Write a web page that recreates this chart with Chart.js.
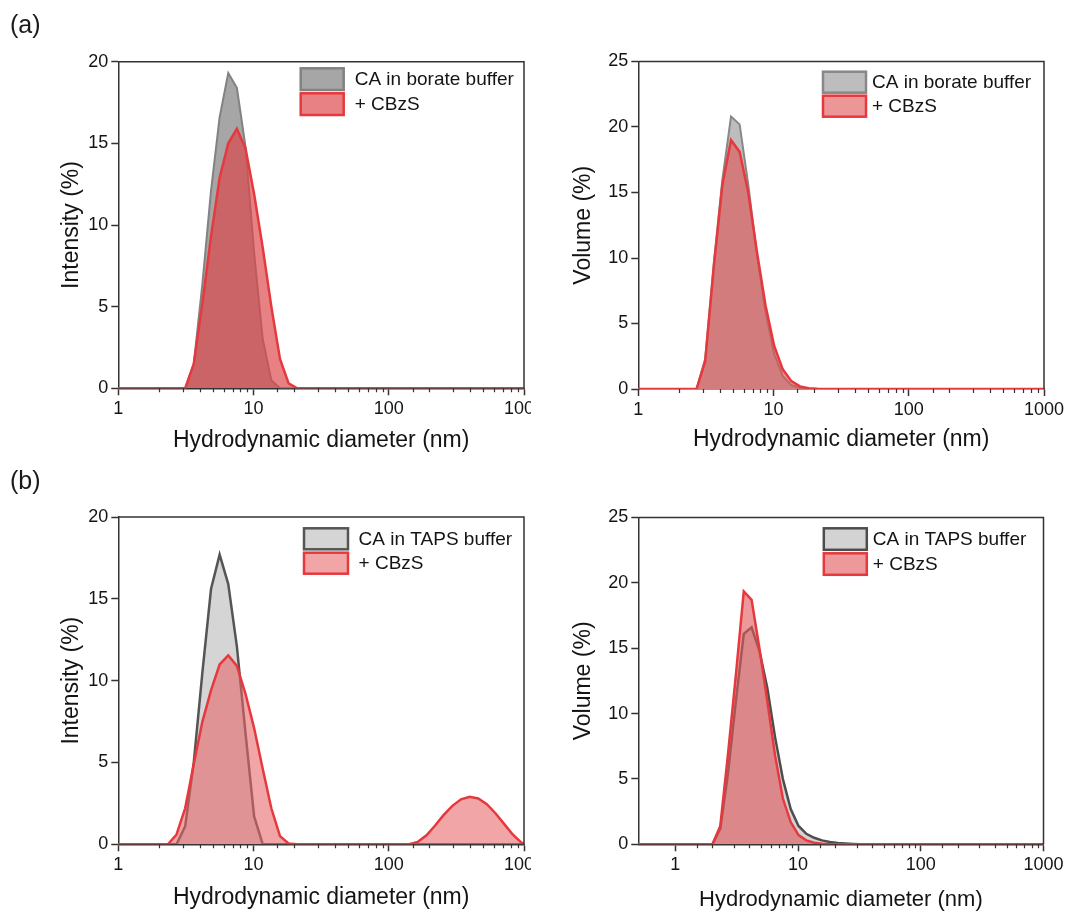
<!DOCTYPE html>
<html>
<head>
<meta charset="utf-8">
<script src="https://cdn.jsdelivr.net/npm/chart.js@4.4.1/dist/chart.umd.min.js"></script>
<style>
  html, body { margin: 0; padding: 0; background: #fff; }
  #page { position: relative; width: 1070px; height: 912px; overflow: hidden; font-family: "Liberation Sans", Arial, sans-serif; }
  .panel { position: absolute; }
  .panel canvas { display: block; }
  .tag { position: absolute; left: 10px; font-size: 25px; line-height: 25px; color: #1a1a1a; }
</style>
</head>
<body>
<div id="page">
  <div class="panel" style="left:0;top:0"><canvas id="intA" width="531" height="456"></canvas></div>
  <div class="panel" style="left:531px;top:0"><canvas id="volA" width="539" height="456"></canvas></div>
  <div class="panel" style="left:0;top:456px"><canvas id="intB" width="531" height="456"></canvas></div>
  <div class="panel" style="left:531px;top:456px"><canvas id="volB" width="539" height="456"></canvas></div>
  <div class="tag" style="top:12px">(a)</div>
  <div class="tag" style="top:468px">(b)</div>
</div>
<script>
// Size classes of the DLS distribution (nm)
const sizeBins = [
  0.4, 0.4632, 0.5365, 0.6213, 0.7195, 0.8332, 0.9649, 1.117, 1.294, 1.499, 1.736,
  2.01, 2.328, 2.696, 3.122, 3.615, 4.187, 4.849, 5.615, 6.503, 7.531, 8.721,
  10.1, 11.7, 13.54, 15.69, 18.17, 21.04, 24.36, 28.21, 32.67, 37.84, 43.82,
  50.75, 58.77, 68.06, 78.82, 91.28, 105.7, 122.4, 141.8, 164.2, 190.1, 220.2,
  255.0, 295.3, 342.0, 396.1, 458.7, 531.2, 615.1, 712.4, 825.0, 955.4, 1106
];

// (a) borate buffer, intensity (%)
const intensityBorateCA = [
  0, 0, 0, 0, 0, 0, 0, 0, 0, 0, 0,
  0, 0, 0, 0, 1.5, 6.4, 12.1, 16.6, 19.3, 18.4, 14.8,
  8.3, 3.0, 0.5, 0, 0, 0, 0, 0, 0, 0, 0,
  0, 0, 0, 0, 0, 0, 0, 0, 0, 0, 0,
  0, 0, 0, 0, 0, 0, 0, 0, 0, 0, 0
];
const intensityBorateCBzS = [
  0, 0, 0, 0, 0, 0, 0, 0, 0, 0, 0,
  0, 0, 0, 0, 1.5, 5.2, 9.3, 12.9, 15.0, 15.9, 14.7,
  11.9, 8.6, 5.0, 1.8, 0.3, 0, 0, 0, 0, 0, 0,
  0, 0, 0, 0, 0, 0, 0, 0, 0, 0, 0,
  0, 0, 0, 0, 0, 0, 0, 0, 0, 0, 0
];

// (a) borate buffer, volume (%)
const volumeBorateCA = [
  0, 0, 0, 0, 0, 0, 0, 0, 0, 0, 0,
  0, 0, 0, 2.3, 9.6, 16.0, 20.8, 20.2, 15.6, 10.3, 5.9,
  2.7, 1.0, 0.3, 0.08, 0.02, 0, 0, 0, 0, 0, 0,
  0, 0, 0, 0, 0, 0, 0, 0, 0, 0, 0,
  0, 0, 0, 0, 0, 0, 0, 0, 0, 0, 0
];
const volumeBorateCBzS = [
  0, 0, 0, 0, 0, 0, 0, 0, 0, 0, 0,
  0, 0, 0, 2.1, 9.3, 15.6, 19.0, 18.1, 15.0, 10.5, 6.4,
  3.3, 1.5, 0.6, 0.2, 0.06, 0.02, 0, 0, 0, 0, 0,
  0, 0, 0, 0, 0, 0, 0, 0, 0, 0, 0,
  0, 0, 0, 0, 0, 0, 0, 0, 0, 0, 0
];

// (b) TAPS buffer, intensity (%)
const intensityTapsCA = [
  0, 0, 0, 0, 0, 0, 0, 0, 0, 0, 0,
  0, 0, 0, 1.1, 5.0, 10.5, 15.6, 17.7, 15.9, 12.1, 6.8,
  1.7, 0, 0, 0, 0, 0, 0, 0, 0, 0, 0,
  0, 0, 0, 0, 0, 0, 0, 0, 0, 0, 0,
  0, 0, 0, 0, 0, 0, 0, 0, 0, 0, 0
];
const intensityTapsCBzS = [
  0, 0, 0, 0, 0, 0, 0, 0, 0, 0, 0,
  0, 0, 0.6, 2.2, 4.9, 7.5, 9.4, 11.0, 11.55, 10.9, 9.2,
  7.1, 4.6, 2.2, 0.5, 0.05, 0, 0, 0, 0, 0, 0,
  0, 0, 0, 0, 0, 0, 0, 0, 0.15, 0.55, 1.15,
  1.8, 2.35, 2.75, 2.9, 2.8, 2.45, 1.9, 1.25, 0.6, 0.1, 0
];

// (b) TAPS buffer, volume (%)
const volumeTapsCA = [
  0, 0, 0, 0, 0, 0, 0, 0, 0, 0, 0,
  0, 1.2, 5.5, 11.0, 16.1, 16.6, 14.8, 12.0, 8.2, 5.0, 2.7,
  1.4, 0.8, 0.5, 0.3, 0.18, 0.1, 0.06, 0.03, 0.01, 0, 0,
  0, 0, 0, 0, 0, 0, 0, 0, 0, 0, 0,
  0, 0, 0, 0, 0, 0, 0, 0, 0, 0, 0
];
const volumeTapsCBzS = [
  0, 0, 0, 0, 0, 0, 0, 0, 0, 0, 0,
  0, 1.4, 7.0, 13.0, 19.35, 18.7, 15.0, 11.0, 6.8, 3.5, 1.7,
  0.7, 0.3, 0.12, 0.04, 0, 0, 0, 0, 0, 0, 0,
  0, 0, 0, 0, 0, 0, 0, 0, 0, 0, 0,
  0, 0, 0, 0, 0, 0, 0, 0, 0, 0, 0
];

// labelled decades on the size axis
const decadeTicks = [1, 10, 100, 1000];

const FONT = '"Liberation Sans", Arial, sans-serif';
const AXIS = '#333333';
const INK = '#141414';
const RED = '#e6393e';

const isDecade = v => decadeTicks.includes(Math.round(v * 1000) / 1000);
const toPoints = series => sizeBins.map((d, i) => ({ x: d, y: series[i] }));

// frame (top/right), short minor ticks under the x axis and the boxed legend
const framePlugin = {
  id: 'frame',
  afterDatasetsDraw(chart, args, opts) {
    const { ctx, chartArea: a } = chart;
    const xs = chart.scales.x;
    ctx.save();
    ctx.strokeStyle = AXIS;
    ctx.lineWidth = 1.5;
    ctx.beginPath();
    ctx.moveTo(a.left, a.top);
    ctx.lineTo(a.right, a.top);
    ctx.lineTo(a.right, a.bottom);
    ctx.stroke();

    ctx.lineWidth = 1.2;
    ctx.beginPath();
    xs.ticks.forEach(t => {
      if (t.value < 1 || isDecade(t.value)) return;
      const px = Math.round(xs.getPixelForValue(t.value)) + 0.5;
      ctx.moveTo(px, a.bottom);
      ctx.lineTo(px, a.bottom + 4);
    });
    ctx.stroke();

    // legend
    const lg = opts.legend;
    ctx.font = '19px ' + FONT;
    ctx.textBaseline = 'middle';
    chart.data.datasets.forEach((ds, i) => {
      const bx = a.right - lg.dx;
      const by = a.top + lg.dy + i * lg.rowGap;
      ctx.fillStyle = '#fff';
      ctx.fillRect(bx, by, lg.boxW, lg.boxH);
      ctx.fillStyle = ds.backgroundColor;
      ctx.fillRect(bx, by, lg.boxW, lg.boxH);
      ctx.strokeStyle = ds.borderColor;
      ctx.lineWidth = 2.5;
      ctx.strokeRect(bx, by, lg.boxW, lg.boxH);
      ctx.fillStyle = INK;
      ctx.fillText(ds.label, bx + lg.boxW + lg.gap, by + lg.boxH / 2 + 1);
    });
    ctx.restore();
  }
};

function buildPanel(id, p) {
  const canvas = document.getElementById(id);
  const H = canvas.height;
  return new Chart(canvas, {
    type: 'line',
    data: {
      datasets: [
        {
          label: p.labels[0],
          data: toPoints(p.ref),
          borderColor: p.grayLine,
          backgroundColor: p.grayFill,
          borderWidth: p.grayWidth,
          fill: 'origin',
          order: 1
        },
        {
          label: p.labels[1],
          data: toPoints(p.cbzs),
          borderColor: RED,
          backgroundColor: p.redFill,
          borderWidth: 2.5,
          fill: 'origin',
          order: 0
        }
      ]
    },
    options: {
      responsive: false,
      animation: false,
      events: [],
      elements: { point: { radius: 0 }, line: { tension: 0 } },
      layout: { padding: { left: 0, top: p.top, right: p.right, bottom: 0 } },
      plugins: {
        legend: { display: false },
        tooltip: { enabled: false },
        frame: { legend: p.legend }
      },
      scales: {
        x: {
          type: 'logarithmic',
          min: p.xMin,
          max: 1000,
          afterFit(s) {
            s.height = H - p.bottom;
            if (p.clipLast) { s.paddingRight = 0; }
          },
          border: { color: AXIS, width: 1.5 },
          grid: {
            drawOnChartArea: false,
            tickLength: 7,
            tickWidth: 1.5,
            tickColor: c => (c.tick && isDecade(c.tick.value) ? AXIS : 'rgba(0,0,0,0)')
          },
          ticks: {
            autoSkip: false,
            maxRotation: 0,
            padding: 3,
            color: INK,
            font: { family: FONT, size: 18 },
            callback: v => (isDecade(v) ? String(Math.round(v)) : '')
          },
          title: {
            display: true,
            text: 'Hydrodynamic diameter (nm)',
            color: INK,
            font: { family: FONT, size: p.xTitleSize },
            padding: { top: 0, bottom: p.xTitlePad }
          }
        },
        y: {
          min: 0,
          max: p.yMax,
          afterFit(s) { s.width = p.left; },
          border: { color: AXIS, width: 1.5 },
          grid: { drawOnChartArea: false, tickLength: 7, tickWidth: 1.5, tickColor: AXIS },
          ticks: {
            stepSize: 5,
            padding: 3,
            color: INK,
            font: { family: FONT, size: 18 }
          },
          title: {
            display: true,
            text: p.yTitle,
            color: INK,
            font: { family: FONT, size: 23 },
            padding: { top: p.yTitlePad, bottom: 0 }
          }
        }
      }
    },
    plugins: [framePlugin]
  });
}

buildPanel('intA', {
  ref: intensityBorateCA, cbzs: intensityBorateCBzS,
  labels: ['CA in borate buffer', '+ CBzS'],
  yTitle: 'Intensity (%)', yMax: 20, xMin: 1,
  left: 118.3, top: 61.7, right: 7, bottom: 388.3, clipLast: true,
  xTitleSize: 23, xTitlePad: 1.2, yTitlePad: 58.2,
  grayFill: '#a6a6a6', grayLine: '#828282', grayWidth: 2,
  redFill: 'rgba(221,70,72,0.68)',
  legend: { dx: 223.3, dy: 6.6, boxW: 43, boxH: 21.7, rowGap: 25, gap: 11 }
});

buildPanel('volA', {
  ref: volumeBorateCA, cbzs: volumeBorateCBzS,
  labels: ['CA in borate buffer', '+ CBzS'],
  yTitle: 'Volume (%)', yMax: 25, xMin: 1,
  left: 107.3, top: 61.5, right: 26, bottom: 389, clipLast: false,
  xTitleSize: 23, xTitlePad: 2.2, yTitlePad: 39.2,
  grayFill: '#bdbdbd', grayLine: '#888888', grayWidth: 2,
  redFill: 'rgba(225,80,84,0.6)',
  legend: { dx: 221, dy: 10.2, boxW: 43, boxH: 21, rowGap: 24, gap: 6 }
});

buildPanel('intB', {
  ref: intensityTapsCA, cbzs: intensityTapsCBzS,
  labels: ['CA in TAPS buffer', '+ CBzS'],
  yTitle: 'Intensity (%)', yMax: 20, xMin: 1,
  left: 118.3, top: 61, right: 7, bottom: 388.3, clipLast: true,
  xTitleSize: 23, xTitlePad: 0.2, yTitlePad: 57.5,
  grayFill: '#d5d5d5', grayLine: '#555555', grayWidth: 2.5,
  redFill: 'rgba(232,100,104,0.58)',
  legend: { dx: 220, dy: 11.3, boxW: 44, boxH: 21, rowGap: 24.4, gap: 10.6 }
});

buildPanel('volB', {
  ref: volumeTapsCA, cbzs: volumeTapsCBzS,
  labels: ['CA in TAPS buffer', '+ CBzS'],
  yTitle: 'Volume (%)', yMax: 25, xMin: 0.5,
  left: 107.3, top: 61.5, right: 26.5, bottom: 388.3, clipLast: false,
  xTitleSize: 22, xTitlePad: -1, yTitlePad: 38.5,
  grayFill: '#d3d3d3', grayLine: '#4d4d4d', grayWidth: 2.5,
  redFill: 'rgba(226,90,94,0.62)',
  legend: { dx: 219.7, dy: 10.8, boxW: 43, boxH: 21.5, rowGap: 25, gap: 6 }
});
</script>
</body>
</html>
